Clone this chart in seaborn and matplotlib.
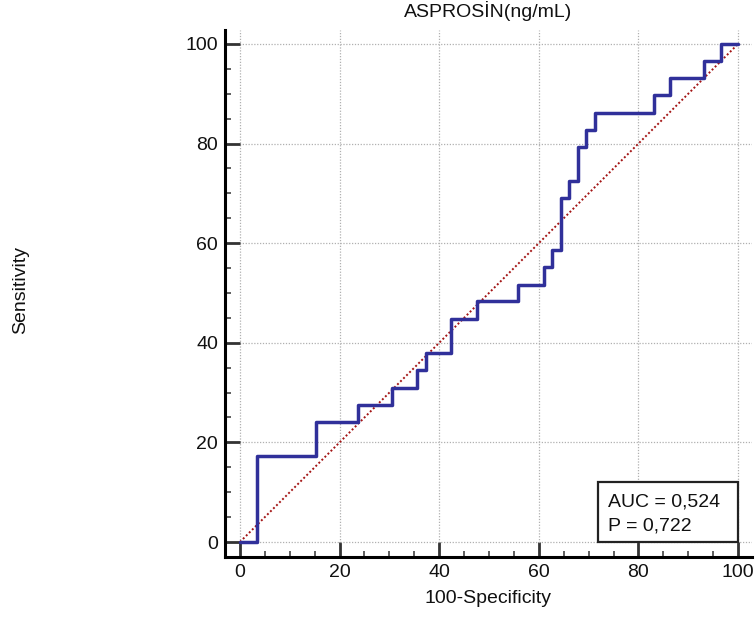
import matplotlib
matplotlib.use("Agg")
import matplotlib.pyplot as plt
import seaborn as sns
from matplotlib.ticker import MultipleLocator
from matplotlib.patches import Rectangle

# ROC curve vertices (100-Specificity, Sensitivity)
fpr = [0, 3.4, 15.3, 23.7, 30.5, 35.6, 37.3, 42.4, 47.5, 55.9, 61.0, 62.7,
       64.4, 66.1, 67.8, 69.5, 71.2, 83.1, 86.4, 93.2, 96.6, 100]
tpr = [0, 17.2, 24.1, 27.6, 31.0, 34.5, 37.9, 44.8, 48.3, 51.7, 55.2, 58.6,
       69.0, 72.4, 79.3, 82.8, 86.2, 89.7, 93.1, 96.6, 100, 100]
diag = [0, 100]
tick_values = [0, 20, 40, 60, 80, 100]
title = "ASPROSİN(ng/mL)"
x_label = "100-Specificity"
y_label = "Sensitivity"
stats_lines = ["AUC = 0,524", "P = 0,722"]

sns.set_style("white")
plt.rcParams["font.family"] = ["Liberation Sans", "DejaVu Sans"]

W, H = 755, 622
fig = plt.figure(figsize=(W / 100, H / 100), dpi=100)
ax_l, ax_r, ax_b, ax_t = 225, 752, 557.3, 30
ax = fig.add_axes([ax_l / W, 1 - ax_b / H, (ax_r - ax_l) / W, (ax_b - ax_t) / H])

ax.set_axisbelow(True)
ax.grid(True, which="major", color="#b0b0b0", linestyle=(0, (1, 1.3)), lw=0.9)

sns.lineplot(x=diag, y=diag, ax=ax, color="#a31515", linestyle=(0, (1, 1.2)),
             lw=1.4, estimator=None, sort=False)
sns.lineplot(x=fpr, y=tpr, ax=ax, drawstyle="steps-post", estimator=None,
             sort=False, color="#30309a", lw=2.5)

ax.set_xlim(-3.0, 102.8)
ax.set_ylim(-3.07, 102.8)
ax.set_xticks(tick_values)
ax.set_yticks(tick_values)
ax.xaxis.set_minor_locator(MultipleLocator(5))
ax.yaxis.set_minor_locator(MultipleLocator(5))

for s in ["top", "right"]:
    ax.spines[s].set_visible(False)
for s in ["left", "bottom"]:
    ax.spines[s].set_color("black")
    ax.spines[s].set_linewidth(2.2)

ax.tick_params(which="both", bottom=True, left=True, top=False, right=False)
ax.tick_params(which="major", direction="in", length=10.5, width=2.0,
               color="#333333", labelsize=14, pad=5, labelcolor="#111111")
ax.tick_params(which="minor", direction="in", length=4.5, width=1.1,
               color="#333333")

ax.set_title(title, fontsize=14, pad=9.5, color="#111111")
ax.set_xlabel(x_label, fontsize=14, labelpad=6, color="#111111")
ax.set_ylabel(y_label, fontsize=14, color="#111111")
ax.yaxis.set_label_coords(-0.371, 0.507)

# Stats box
box_x0 = (598 - 240) / 4.98
box_y1 = (542 - 482) / 4.98
ax.add_patch(Rectangle((box_x0, 0), 100 - box_x0, box_y1, facecolor="white",
                       edgecolor="#222222", lw=1.6, zorder=5))
text_x = (608 - 240) / 4.98
baselines = [(542 - 506.7) / 4.98, (542 - 530) / 4.98]
for line, yb in zip(stats_lines, baselines):
    ax.text(text_x, yb, line, fontsize=14, va="baseline", ha="left",
            color="#111111", zorder=6)

fig.savefig("out.png", dpi=100)
